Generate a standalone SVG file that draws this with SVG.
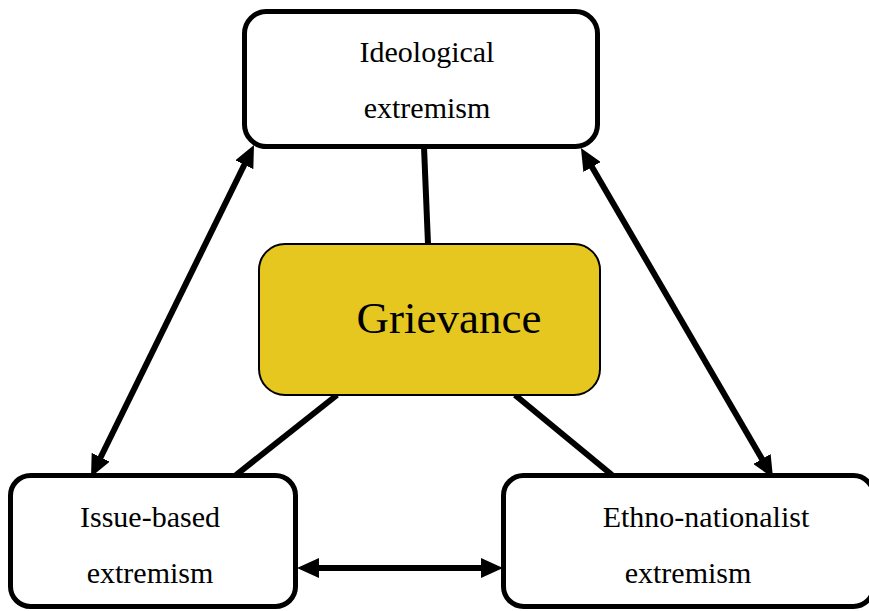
<svg xmlns="http://www.w3.org/2000/svg" width="869" height="611" viewBox="0 0 869 611">
<style>
.box{fill:#ffffff;stroke:#000;stroke-width:5}
.core{fill:#E6C720;stroke:#000;stroke-width:2}
.ln{stroke:#000;stroke-width:6;fill:none}
.arr{stroke:#000;stroke-width:6;fill:none;marker-start:url(#ah);marker-end:url(#ah)}
</style>
<defs>
<marker id="ah" viewBox="0 0 22 20" markerWidth="22" markerHeight="20" refX="7" refY="10" orient="auto-start-reverse" markerUnits="userSpaceOnUse">
<path d="M0,0 L22,10 L0,20 z" fill="#000"/>
</marker>
</defs>
<g id="connectors">
<line class="ln" x1="424" y1="147" x2="428" y2="244"/>
<line class="ln" x1="337" y1="395" x2="236" y2="475"/>
<line class="ln" x1="515" y1="395" x2="612" y2="475"/>
<line class="arr" x1="247.4" y1="158.5" x2="97.6" y2="463.5"/>
<line class="arr" x1="588.5" y1="161" x2="765.5" y2="465"/>
<line class="arr" x1="312" y1="568" x2="488" y2="568"/>
</g>
<g font-family="'Liberation Serif', 'Times New Roman', 'DejaVu Serif', serif" fill="#000" text-anchor="middle">
<g id="ideological">
<rect class="box" x="244.5" y="11.5" width="353" height="135" rx="22"/>
<text x="427" y="62" font-size="30">Ideological</text>
<text x="427" y="118" font-size="30">extremism</text>
</g>
<g id="grievance">
<rect class="core" x="259" y="244" width="341" height="151" rx="26"/>
<text x="449" y="333" font-size="45">Grievance</text>
</g>
<g id="issue">
<rect class="box" x="10.5" y="475.5" width="285" height="131" rx="20"/>
<text x="150" y="527" font-size="30">Issue-based</text>
<text x="150" y="583" font-size="30">extremism</text>
</g>
<g id="ethno">
<rect class="box" x="503.5" y="475.5" width="370" height="131" rx="20"/>
<text x="706" y="527" font-size="30">Ethno-nationalist</text>
<text x="688" y="583" font-size="30">extremism</text>
</g>
</g>
</svg>
